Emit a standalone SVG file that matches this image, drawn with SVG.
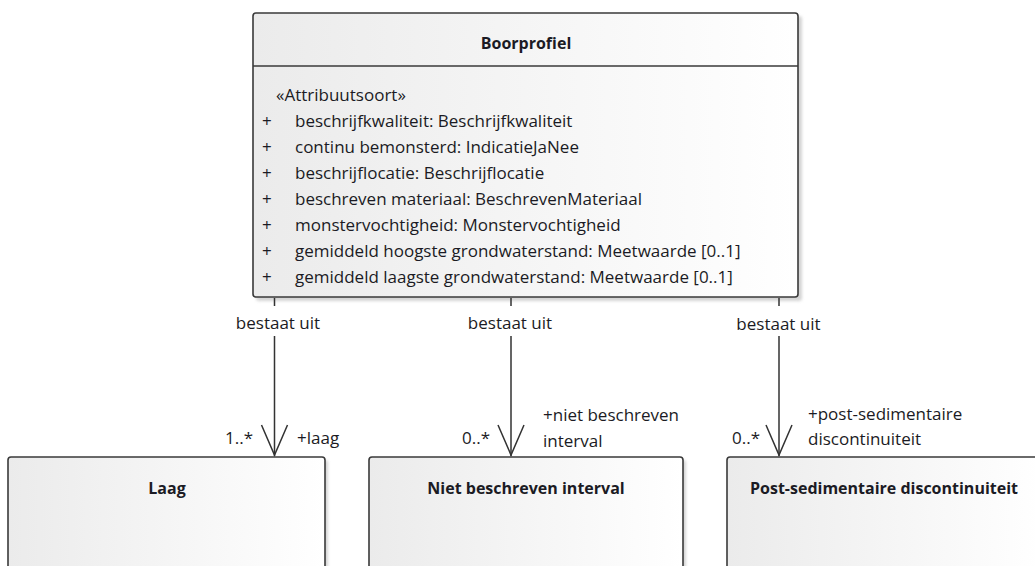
<svg xmlns="http://www.w3.org/2000/svg" width="1035" height="566" viewBox="0 0 1035 566">
  <defs>
    <linearGradient id="fillGrad" x1="0" y1="0" x2="1" y2="0">
      <stop offset="0" stop-color="#ebebeb"/>
      <stop offset="1" stop-color="#ffffff"/>
    </linearGradient>
    <filter id="shadow" x="-5%" y="-5%" width="115%" height="115%">
      <feGaussianBlur stdDeviation="1.5"/>
    </filter>
    <style>
      text { font-family: "Open Sans", "Noto Sans", "DejaVu Sans", sans-serif; font-size: 17px; fill: #1b1b24; }
      .title { font-weight: bold; font-size: 16px; text-anchor: middle; }
      .mid { text-anchor: middle; }
      .box { fill: url(#fillGrad); stroke: #3a3a3a; stroke-width: 1.6; }
      .shadow { fill: #b8b8b8; opacity: 0.6; filter: url(#shadow); }
      .sep { stroke: #3a3a3a; stroke-width: 1.6; }
      .conn { fill: none; stroke: #333333; stroke-width: 1.5; }
    </style>
  </defs>

  <g id="boorprofiel">
    <rect class="shadow" x="256" y="16" width="546" height="285" rx="3"/>
    <rect class="box" x="253" y="13" width="545" height="284" rx="3"/>
    <line class="sep" x1="253" y1="66" x2="798" y2="66"/>
    <text class="title" x="526" y="49">Boorprofiel</text>
    <text x="276" y="101">«Attribuutsoort»</text>
    <text x="262" y="127">+</text><text x="295" y="127">beschrijfkwaliteit: Beschrijfkwaliteit</text>
    <text x="262" y="153">+</text><text x="295" y="153">continu bemonsterd: IndicatieJaNee</text>
    <text x="262" y="179">+</text><text x="295" y="179">beschrijflocatie: Beschrijflocatie</text>
    <text x="262" y="205">+</text><text x="295" y="205">beschreven materiaal: BeschrevenMateriaal</text>
    <text x="262" y="231">+</text><text x="295" y="231">monstervochtigheid: Monstervochtigheid</text>
    <text x="262" y="257">+</text><text x="295" y="257">gemiddeld hoogste grondwaterstand: Meetwaarde [0..1]</text>
    <text x="262" y="283">+</text><text x="295" y="283">gemiddeld laagste grondwaterstand: Meetwaarde [0..1]</text>
  </g>

  <g id="laag">
    <rect class="shadow" x="11" y="460" width="317" height="120" rx="3"/>
    <rect class="box" x="8" y="457" width="317" height="120" rx="3"/>
    <text class="title" x="167" y="494">Laag</text>
  </g>

  <g id="niet-beschreven-interval">
    <rect class="shadow" x="372" y="460" width="314" height="120" rx="3"/>
    <rect class="box" x="369" y="457" width="314" height="120" rx="3"/>
    <text class="title" x="526" y="494">Niet beschreven interval</text>
  </g>

  <g id="post-sedimentaire-discontinuiteit">
    <rect class="shadow" x="730" y="460" width="315" height="120" rx="3"/>
    <rect class="box" x="727" y="457" width="315" height="120" rx="3"/>
    <text class="title" x="884" y="494">Post-sedimentaire discontinuiteit</text>
  </g>

  <g id="connectors">
    <path class="conn" d="M274.5 298 V306 M274.5 336 V456"/>
    <polyline class="conn" points="261.5,425 274.5,455 287.5,425"/>
    <text class="mid" x="278" y="329">bestaat uit</text>
    <text x="225" y="444">1..*</text>
    <text x="297" y="444">+laag</text>

    <path class="conn" d="M511 298 V306 M511 336 V456"/>
    <polyline class="conn" points="498,425 511,455 524,425"/>
    <text class="mid" x="510" y="329">bestaat uit</text>
    <text x="462" y="444">0..*</text>
    <text x="543" y="421">+niet beschreven</text>
    <text x="543" y="447">interval</text>

    <path class="conn" d="M779 298 V306 M779 336 V456"/>
    <polyline class="conn" points="766,425 779,455 792,425"/>
    <text class="mid" x="778.5" y="330">bestaat uit</text>
    <text x="732" y="444">0..*</text>
    <text x="808" y="420">+post-sedimentaire</text>
    <text x="808" y="445">discontinuiteit</text>
  </g>
</svg>
